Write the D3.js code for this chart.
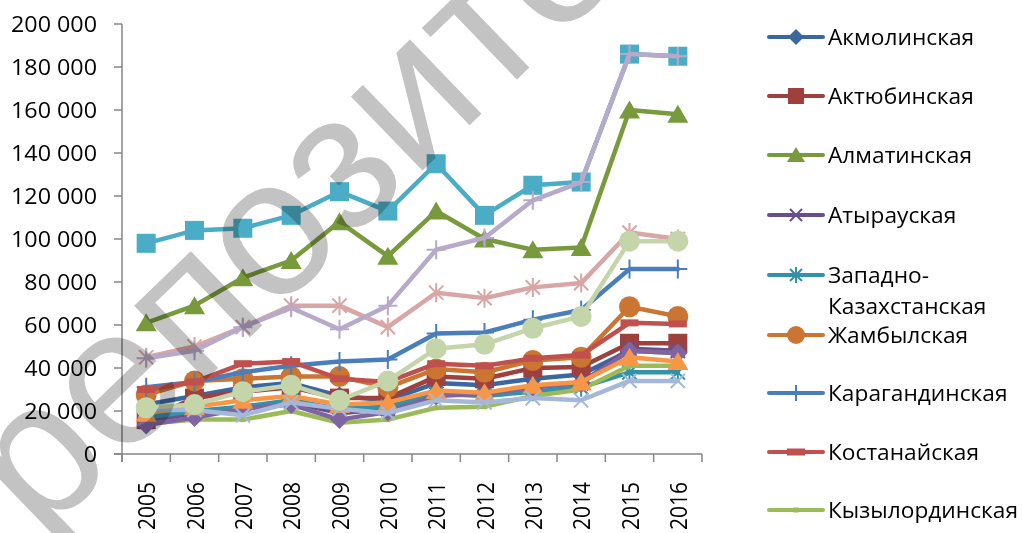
<!DOCTYPE html>
<html>
<head>
<meta charset="utf-8">
<script src="https://cdn.jsdelivr.net/npm/d3@7"></script>
<style>
  body { margin: 0; background: #fff; }
  svg { display: block; }
  text { font-family: "Open Sans", sans-serif; fill: #000; }
</style>
</head>
<body>
<svg id="chart" width="1022" height="533"></svg>
<script>
// years on the category axis
var years = ["2005", "2006", "2007", "2008", "2009", "2010", "2011", "2012", "2013", "2014", "2015", "2016"];

// y axis ticks
var yTicks = [0, 20000, 40000, 60000, 80000, 100000, 120000, 140000, 160000, 180000, 200000];

// region names, in series order (only the first 9 fit in the legend)
var regions = [
  "Акмолинская", "Актюбинская", "Алматинская", "Атырауская",
  "Западно-Казахстанская", "Жамбылская", "Карагандинская", "Костанайская",
  "Кызылординская", "Мангистауская", "Южно-Казахстанская", "Павлодарская",
  "Северо-Казахстанская", "Восточно-Казахстанская", "г. Астана", "г. Алматы"
];

// values per region
var akmola     = [23000, 27000, 31000, 33000, 27000, 25000, 33000, 32000, 35000, 37000, 48000, 47000];
var aktobe     = [16000, 26000, 29000, 31000, 26000, 26000, 36000, 35000, 40000, 40500, 51500, 51500];
var almaty_obl = [61000, 69000, 82000, 90000, 108000, 92000, 113000, 100000, 95000, 96000, 160000, 158000];
var atyrau     = [15000, 19000, 22000, 24000, 19000, 21000, 28000, 28000, 31000, 33000, 49000, 48000];
var zko        = [17000, 20000, 22000, 25000, 21000, 22000, 28000, 27000, 29000, 31000, 38000, 38000];
var zhambyl    = [27500, 34000, 35000, 36000, 36000, 31000, 39500, 38000, 43500, 45000, 68500, 64000];
var karaganda  = [31000, 33500, 38000, 41000, 43000, 44000, 56000, 56500, 62500, 67000, 86000, 86000];
var kostanay   = [30000, 33500, 42000, 43000, 35000, 33500, 42000, 41000, 44500, 46000, 61000, 60500];
var kyzylorda  = [14000, 16000, 16000, 20000, 14500, 16000, 21500, 22000, 27000, 30000, 41000, 41000];
var mangystau  = [13500, 17000, 21000, 23000, 16000, 19500, 27000, 28000, 31000, 33000, 48000, 47000];
var uko        = [98000, 104000, 105000, 111000, 122000, 113000, 135000, 111000, 125000, 126500, 186000, 185000];
var pavlodar   = [19000, 22000, 25000, 27000, 23000, 24000, 29500, 28500, 32000, 33500, 45000, 43000];
var sko        = [20500, 20500, 18000, 24000, 21000, 19000, 25000, 24000, 26000, 25000, 34000, 34000];
var vko        = [45000, 50000, 59000, 69000, 69000, 59000, 75000, 72500, 77500, 79500, 103000, 100000];
var astana     = [21500, 23000, 29000, 32000, 25000, 34000, 49000, 51000, 58500, 64000, 99000, 99000];
var almaty     = [44500, 48000, 59000, 68000, 58000, 69000, 95000, 100500, 118000, 126500, 186000, 185000];

var values = [akmola, aktobe, almaty_obl, atyrau, zko, zhambyl, karaganda, kostanay,
              kyzylorda, mangystau, uko, pavlodar, sko, vko, astana, almaty];

// office-style palette: darker / base / lighter
var colors = [
  "#3b67a0", "#9e413e", "#789a3d", "#67508a", "#3391a8", "#cb7532",
  "#4a7ebb", "#c0504d", "#9bbb59", "#8064a2", "#4bacc6", "#f79646",
  "#a5b8d9", "#d8a6a4", "#c4d6a9", "#b6a9ca"
];
var markers = [
  "diamond", "square", "triangle", "x", "star", "circle", "plus", "dash",
  "dot", "diamond", "square", "triangle", "x", "star", "circle", "plus"
];

var svg = d3.select("#chart");

var x = d3.scaleBand().domain(years).range([122, 702]);
var y = d3.scaleLinear().domain([0, 200000]).range([454, 24]);
var fmt = function(d) { return d3.format(",")(d).replace(/,/g, " "); };

// axes
var axes = svg.append("g");
axes.append("line")
  .attr("x1", 122).attr("x2", 122).attr("y1", 24).attr("y2", 462)
  .attr("stroke", "#868686").attr("stroke-width", 1.5);
axes.append("line")
  .attr("x1", 114).attr("x2", 702).attr("y1", 454).attr("y2", 454)
  .attr("stroke", "#868686").attr("stroke-width", 1.5);

axes.selectAll(".ytick")
  .data(yTicks)
  .enter()
  .append("line")
  .attr("x1", 114).attr("x2", 122)
  .attr("y1", function(d) { return y(d); })
  .attr("y2", function(d) { return y(d); })
  .attr("stroke", "#868686").attr("stroke-width", 1.5);

axes.selectAll(".xtick")
  .data(years.concat(["end"]))
  .enter()
  .append("line")
  .attr("x1", function(d, i) { return 122 + i * x.bandwidth(); })
  .attr("x2", function(d, i) { return 122 + i * x.bandwidth(); })
  .attr("y1", 454).attr("y2", 462)
  .attr("stroke", "#868686").attr("stroke-width", 1.5);

axes.selectAll(".ylabel")
  .data(yTicks)
  .enter()
  .append("text")
  .attr("transform", function(d) { return "translate(97," + (y(d) + 7.5) + ") scale(1.11,1)"; })
  .attr("text-anchor", "end")
  .style("font-size", "21px")
  .text(fmt);

axes.selectAll(".xlabel")
  .data(years)
  .enter()
  .append("text")
  .attr("transform", function(d) {
    return "translate(" + (x(d) + x.bandwidth() / 2 + 9) + ",482) scale(1.15,1) rotate(-90)";
  })
  .attr("text-anchor", "end")
  .style("font-size", "21px")
  .text(function(d) { return d; });

// marker drawing
function drawMarker(sel, type, color, s) {
  var h = s / 2;
  if (type === "diamond") {
    sel.append("path").attr("d", "M0," + (-h) + "L" + h + ",0L0," + h + "L" + (-h) + ",0Z").attr("fill", color);
  } else if (type === "square") {
    sel.append("rect").attr("x", -h).attr("y", -h).attr("width", s).attr("height", s).attr("fill", color);
  } else if (type === "triangle") {
    sel.append("path").attr("d", "M0," + (-h) + "L" + (h + 1) + "," + (h - 1) + "L" + (-h - 1) + "," + (h - 1) + "Z").attr("fill", color);
  } else if (type === "circle") {
    sel.append("circle").attr("r", h + 1).attr("fill", color);
  } else if (type === "x" || type === "star" || type === "plus") {
    var d = "";
    var k = h * 0.75;
    if (type !== "plus") d += "M" + (-k) + "," + (-k) + "L" + k + "," + k + "M" + (-k) + "," + k + "L" + k + "," + (-k);
    if (type !== "x") d += "M0," + (-h) + "L0," + h;
    if (type === "plus") d += "M" + (-h) + ",0L" + h + ",0";
    sel.append("path").attr("d", d).attr("stroke", color).attr("stroke-width", 2).attr("fill", "none");
  } else if (type === "dash") {
    sel.append("rect").attr("x", -9).attr("y", -3.5).attr("width", 18).attr("height", 7).attr("fill", color);
  } else if (type === "dot") {
    sel.append("rect").attr("x", -2.5).attr("y", -2.5).attr("width", 5).attr("height", 5).attr("fill", color);
  }
}

var line = d3.line()
  .x(function(d, i) { return x(years[i]) + x.bandwidth() / 2; })
  .y(function(d) { return y(d); });

var plot = svg.append("g");

values.forEach(function(vals, si) {
  var g = plot.append("g").attr("class", "series");
  g.append("path")
    .datum(vals)
    .attr("d", line)
    .attr("fill", "none")
    .attr("stroke", colors[si])
    .attr("stroke-width", 4.5)
    .attr("stroke-linejoin", "round")
    .attr("stroke-linecap", "round");
  g.selectAll(".m")
    .data(vals)
    .enter()
    .append("g")
    .attr("transform", function(d, i) {
      return "translate(" + (x(years[i]) + x.bandwidth() / 2) + "," + y(d) + ")";
    })
    .each(function() { drawMarker(d3.select(this), markers[si], colors[si], 19); });
});

// legend (cut off after the ninth entry, as in the picture)
var legendRows = [
  { i: 0, y: 37, lines: ["Акмолинская"] },
  { i: 1, y: 96, lines: ["Актюбинская"] },
  { i: 2, y: 155, lines: ["Алматинская"] },
  { i: 3, y: 215, lines: ["Атырауская"] },
  { i: 4, y: 275, lines: ["Западно-", "Казахстанская"] },
  { i: 5, y: 335, lines: ["Жамбылская"] },
  { i: 6, y: 393, lines: ["Карагандинская"] },
  { i: 7, y: 452, lines: ["Костанайская"] },
  { i: 8, y: 510, lines: ["Кызылординская"] }
];

var legend = svg.append("g");
var items = legend.selectAll(".item")
  .data(legendRows)
  .enter()
  .append("g")
  .attr("transform", function(d) { return "translate(0," + d.y + ")"; });

items.append("line")
  .attr("x1", 769).attr("x2", 823)
  .attr("stroke", function(d) { return colors[d.i]; })
  .attr("stroke-width", 4)
  .attr("stroke-linecap", "round");

items.append("g")
  .attr("transform", "translate(796,0)")
  .each(function(d) { drawMarker(d3.select(this), markers[d.i], colors[d.i], 16); });

items.each(function(d) {
  var it = d3.select(this);
  d.lines.forEach(function(t, j) {
    it.append("text")
      .attr("transform", "translate(828," + (8 + j * 31) + ") scale(1.01,1)")
      .style("font-size", "22.5px")
      .text(t);
  });
});

// repository watermark laid over the chart
svg.append("text")
  .attr("transform", "translate(40,540) rotate(-44)")
  .style("font-family", "'Liberation Sans', sans-serif")
  .style("font-size", "195px")
  .style("fill", "#c3c3c3")
  .style("mix-blend-mode", "multiply")
  .text("репозиторий");
</script>
</body>
</html>
